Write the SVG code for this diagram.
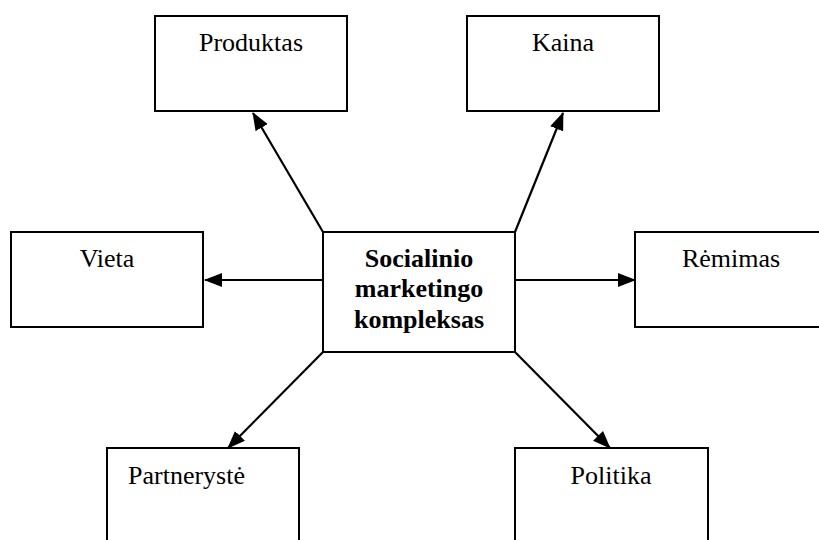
<svg xmlns="http://www.w3.org/2000/svg" width="819" height="540" viewBox="0 0 819 540">
  <style>
    .box { fill: #fff; stroke: #000; stroke-width: 2; }
    .lbl { font-family: "Liberation Serif", "Times New Roman", serif; font-size: 26px; fill: #000; }
    .ctr { text-anchor: middle; }
    .bold { font-weight: bold; }
    .conn { stroke: #000; stroke-width: 2.2; fill: none; marker-end: url(#arrow); }
  </style>
  <defs>
    <marker id="arrow" markerUnits="userSpaceOnUse" markerWidth="18" markerHeight="14" viewBox="0 0 18 14" refX="17" refY="7" orient="auto">
      <path d="M0,0 L18,7 L0,14 z" fill="#000"/>
    </marker>
  </defs>
  <rect width="819" height="540" fill="#fff"/>

  <g id="connectors">
    <line class="conn" x1="323" y1="232" x2="253" y2="113"/>
    <line class="conn" x1="515" y1="232" x2="563" y2="113"/>
    <line class="conn" x1="323" y1="280" x2="205" y2="280"/>
    <line class="conn" x1="515" y1="280" x2="635" y2="280"/>
    <line class="conn" x1="323" y1="352" x2="228" y2="448"/>
    <line class="conn" x1="515" y1="352" x2="610" y2="448"/>
  </g>

  <g id="center">
    <rect class="box" x="323" y="232" width="192" height="120"/>
    <text class="lbl ctr bold" x="419" y="267">Socialinio</text>
    <text class="lbl ctr bold" x="419" y="297">marketingo</text>
    <text class="lbl ctr bold" x="419" y="328">kompleksas</text>
  </g>

  <g id="produktas">
    <rect class="box" x="155" y="16" width="192" height="95"/>
    <text class="lbl ctr" x="251" y="51">Produktas</text>
  </g>

  <g id="kaina">
    <rect class="box" x="467" y="16" width="192" height="95"/>
    <text class="lbl ctr" x="563" y="51">Kaina</text>
  </g>

  <g id="vieta">
    <rect class="box" x="11" y="232" width="192" height="95"/>
    <text class="lbl ctr" x="107" y="267">Vieta</text>
  </g>

  <g id="remimas">
    <rect class="box" x="635" y="232" width="192" height="95"/>
    <text class="lbl ctr" x="731" y="267">Rėmimas</text>
  </g>

  <g id="partneryste">
    <rect class="box" x="107" y="448" width="192" height="110"/>
    <text class="lbl" x="128" y="484">Partnerystė</text>
  </g>

  <g id="politika">
    <rect class="box" x="515" y="448" width="193" height="110"/>
    <text class="lbl ctr" x="611" y="484">Politika</text>
  </g>
</svg>
